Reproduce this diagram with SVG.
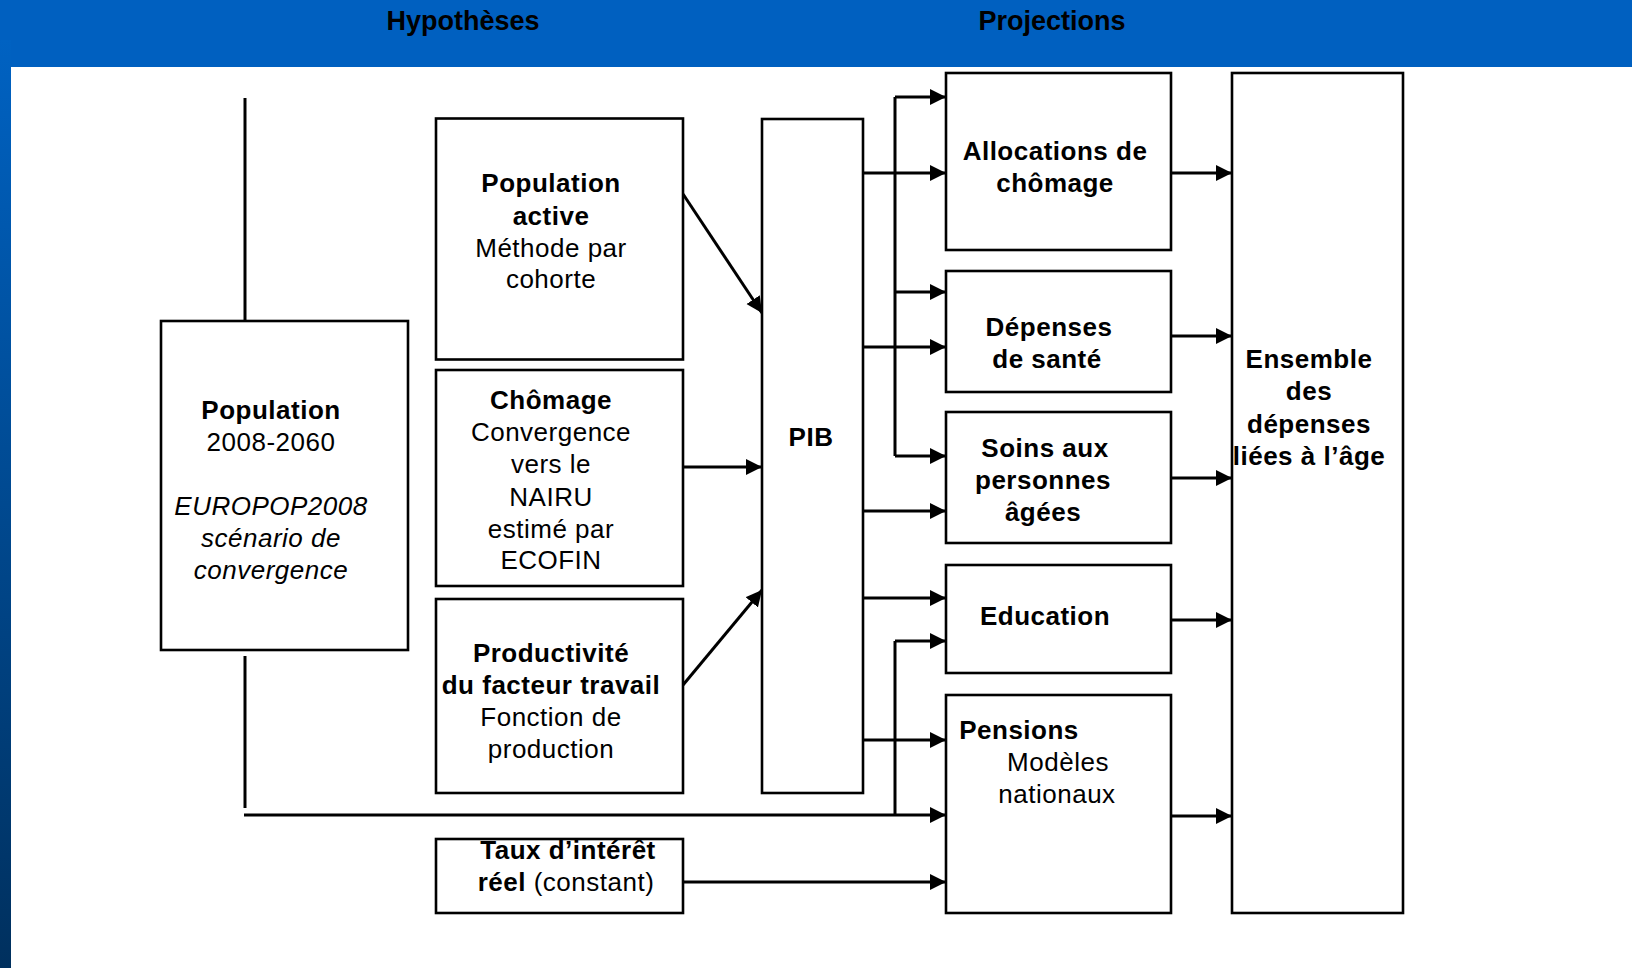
<svg xmlns="http://www.w3.org/2000/svg" width="1632" height="968" viewBox="0 0 1632 968">
<style>
.box{fill:#fff;stroke:#000;stroke-width:2.6}
.t{font-family:"Liberation Sans",Arial,sans-serif;font-size:26px;fill:#000;text-anchor:middle;letter-spacing:0.5px}
.b{font-weight:bold}
.i{font-style:italic}
.h{font-family:"Liberation Sans",Arial,sans-serif;font-size:27px;font-weight:bold;fill:#000;text-anchor:middle}
.c{stroke:#000;stroke-width:3;fill:none}
.a{marker-end:url(#arr)}
</style>
<defs>
<linearGradient id="side" x1="0" y1="0" x2="0" y2="1">
<stop offset="0" stop-color="#0062C2"/>
<stop offset="1" stop-color="#00305E"/>
</linearGradient>
<marker id="arr" markerUnits="userSpaceOnUse" markerWidth="17" markerHeight="17" refX="16" refY="8" orient="auto">
<path d="M0,0 L16,8 L0,16 z" fill="#000"/>
</marker>
</defs>
<rect x="0" y="0" width="1632" height="968" fill="#fff"/>
<g id="header">
<rect x="0" y="0" width="1632" height="67" fill="#0060C0"/>
<rect x="0" y="40" width="11" height="928" fill="url(#side)"/>
<text class="h" x="463" y="30">Hypothèses</text>
<text class="h" x="1052" y="30">Projections</text>
</g>
<g id="connectors">
<line class="c" x1="245" y1="98" x2="245" y2="324"/>
<line class="c" x1="245" y1="656" x2="245" y2="808"/>
<line class="c a" x1="244" y1="815" x2="946" y2="815"/>
<line class="c" x1="895" y1="97" x2="895" y2="456"/>
<line class="c a" x1="895" y1="97" x2="946" y2="97"/>
<line class="c a" x1="895" y1="292" x2="946" y2="292"/>
<line class="c a" x1="895" y1="456" x2="946" y2="456"/>
<line class="c" x1="895" y1="641" x2="895" y2="815"/>
<line class="c a" x1="895" y1="641" x2="946" y2="641"/>
<line class="c a" x1="863" y1="173" x2="946" y2="173"/>
<line class="c a" x1="863" y1="347" x2="946" y2="347"/>
<line class="c a" x1="863" y1="511" x2="946" y2="511"/>
<line class="c a" x1="863" y1="598" x2="946" y2="598"/>
<line class="c a" x1="863" y1="740" x2="946" y2="740"/>
<line class="c a" x1="683" y1="194" x2="762" y2="313"/>
<line class="c a" x1="683" y1="467" x2="762" y2="467"/>
<line class="c a" x1="683" y1="685" x2="762" y2="590"/>
<line class="c a" x1="683" y1="882" x2="946" y2="882"/>
<line class="c a" x1="1171" y1="173" x2="1232" y2="173"/>
<line class="c a" x1="1171" y1="336" x2="1232" y2="336"/>
<line class="c a" x1="1171" y1="478" x2="1232" y2="478"/>
<line class="c a" x1="1171" y1="620" x2="1232" y2="620"/>
<line class="c a" x1="1171" y1="816" x2="1232" y2="816"/>
</g>
<g id="population">
<rect class="box" x="161" y="321" width="247" height="329"/>
<text class="t" x="271" y="419"><tspan class="b">Population</tspan></text>
<text class="t" x="271" y="451">2008-2060</text>
<text class="t i" x="271" y="515">EUROPOP2008</text>
<text class="t i" x="271" y="547">scénario de</text>
<text class="t i" x="271" y="579">convergence</text>
</g>
<g id="population-active">
<rect class="box" x="436" y="118.5" width="247" height="241"/>
<text class="t b" x="551" y="192">Population</text>
<text class="t b" x="551" y="224.5">active</text>
<text class="t" x="551" y="257">Méthode par</text>
<text class="t" x="551" y="288">cohorte</text>
</g>
<g id="chomage">
<rect class="box" x="436" y="370" width="247" height="216"/>
<text class="t b" x="551" y="409">Chômage</text>
<text class="t" x="551" y="441">Convergence</text>
<text class="t" x="551" y="473">vers le</text>
<text class="t" x="551" y="505.5">NAIRU</text>
<text class="t" x="551" y="538">estimé par</text>
<text class="t" x="551" y="569">ECOFIN</text>
</g>
<g id="productivite">
<rect class="box" x="436" y="599" width="247" height="194"/>
<text class="t b" x="551" y="662">Productivité</text>
<text class="t b" x="551" y="694">du facteur travail</text>
<text class="t" x="551" y="726">Fonction de</text>
<text class="t" x="551" y="758">production</text>
</g>
<g id="taux">
<rect class="box" x="436" y="839" width="247" height="74"/>
<text class="t b" x="568" y="859">Taux d’intérêt</text>
<text class="t" x="566" y="891"><tspan class="b">réel</tspan> (constant)</text>
</g>
<g id="pib">
<rect class="box" x="762" y="119" width="101" height="674"/>
<text class="t b" x="811" y="446">PIB</text>
</g>
<g id="allocations">
<rect class="box" x="946" y="73" width="225" height="177"/>
<text class="t b" x="1055" y="160">Allocations de</text>
<text class="t b" x="1055" y="192">chômage</text>
</g>
<g id="depenses-sante">
<rect class="box" x="946" y="271" width="225" height="121"/>
<text class="t b" x="1049" y="336">Dépenses</text>
<text class="t b" x="1047" y="368">de santé</text>
</g>
<g id="soins">
<rect class="box" x="946" y="412" width="225" height="131"/>
<text class="t b" x="1045" y="456.5">Soins aux</text>
<text class="t b" x="1043" y="489">personnes</text>
<text class="t b" x="1043" y="521">âgées</text>
</g>
<g id="education">
<rect class="box" x="946" y="565" width="225" height="108"/>
<text class="t b" x="1045" y="625">Education</text>
</g>
<g id="pensions">
<rect class="box" x="946" y="695" width="225" height="218"/>
<text class="t b" x="1019" y="739">Pensions</text>
<text class="t" x="1058" y="771">Modèles</text>
<text class="t" x="1057" y="803">nationaux</text>
</g>
<g id="ensemble">
<rect class="box" x="1232" y="73" width="171" height="840"/>
<text class="t b" x="1309" y="368">Ensemble</text>
<text class="t b" x="1309" y="400">des</text>
<text class="t b" x="1309" y="433">dépenses</text>
<text class="t b" x="1309" y="465">liées à l’âge</text>
</g>
</svg>
